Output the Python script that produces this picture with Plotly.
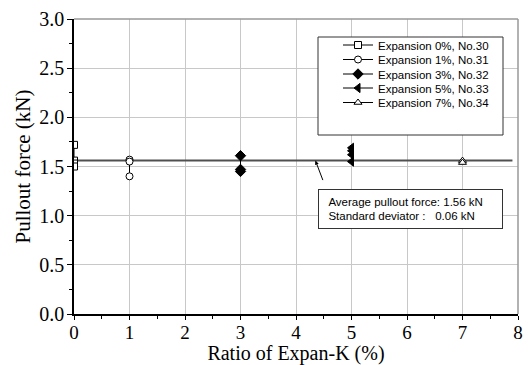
import plotly.graph_objects as go

# ---- data ----
series_names = ["Expansion 0%, No.30", "Expansion 1%, No.31", "Expansion 3%, No.32",
                "Expansion 5%, No.33", "Expansion 7%, No.34"]
x_0 = [0, 0, 0, 0]
y_0 = [1.72, 1.56, 1.53, 1.50]
x_1 = [1, 1, 1]
y_1 = [1.57, 1.55, 1.40]
x_3 = [3, 3, 3]
y_3 = [1.61, 1.47, 1.45]
x_5 = [5, 5, 5, 5]
y_5 = [1.69, 1.66, 1.62, 1.55]
x_7 = [7, 7]
y_7 = [1.56, 1.54]
avg_force = 1.56
avg_x = [0.07, 7.9]
x_ticks = [0, 1, 2, 3, 4, 5, 6, 7, 8]
y_ticks = [0.0, 0.5, 1.0, 1.5, 2.0, 2.5, 3.0]
y_ticklabels = ["0.0", "0.5", "1.0", "1.5", "2.0", "2.5", "3.0"]
annot_text = ("&nbsp;&nbsp;Average pullout force: 1.56 kN<br>"
              "&nbsp;&nbsp;Standard deviator :&nbsp;&nbsp;&nbsp;0.06 kN")
arrow_x, arrow_y = 4.35, 1.56

xs = [x_0, x_1, x_3, x_5, x_7]
ys = [y_0, y_1, y_3, y_5, y_7]
symbols = ["square", "circle", "diamond", "triangle-left", "triangle-up"]
fills = ["white", "white", "black", "black", "white"]
sizes = [7, 7, 8, 8, 7]

# layout helpers (pixels of the 531x365 canvas)
L, R, T, B = 74, 13, 19, 51
W, H = 531, 365
PW, PH = W - L - R, H - T - B
def px_x(p):
    return (p - L) / PW
def px_y(p):
    return (H - B - p) / PH

legend_rows_px = [45, 59.5, 74, 88, 102.5]
legend_ids = ["legend", "legend2", "legend3", "legend4", "legend5"]

serif = "Liberation Serif, Times New Roman, serif"
sans = "Liberation Sans, Arial, sans-serif"

fig = go.Figure()

fig.add_trace(go.Scatter(x=avg_x, y=[avg_force, avg_force], mode="lines",
                         line=dict(color="#505050", width=2), showlegend=False,
                         hoverinfo="skip"))

for name, x, y, sym, fc, sz, lid in zip(series_names, xs, ys, symbols, fills, sizes, legend_ids):
    fig.add_trace(go.Scatter(
        x=x, y=y, name=name, mode="lines+markers", legend=lid,
        line=dict(color="black", width=1),
        marker=dict(symbol=sym, size=sz, color=fc, line=dict(color="black", width=1)),
    ))

legend_layout = {}
for lid, row in zip(legend_ids, legend_rows_px):
    legend_layout[lid] = dict(
        x=px_x(338), y=px_y(row), xanchor="left", yanchor="middle",
        bgcolor="rgba(0,0,0,0)", borderwidth=0,
        font=dict(family=sans, size=11.5, color="black"),
        itemwidth=30,
    )

fig.update_layout(
    width=W, height=H,
    margin=dict(l=L, r=R, t=T, b=B, autoexpand=False),
    plot_bgcolor="white", paper_bgcolor="white",
    showlegend=True,
    **legend_layout,
    xaxis=dict(
        range=[0, 8], tickvals=x_ticks, showgrid=True, gridcolor="#c8c8c8", gridwidth=1,
        showline=True, linecolor="black", linewidth=1.5, zeroline=False, automargin=True,
        ticks="outside", ticklen=4, tickcolor="black", ticklabelstandoff=-4,
        minor=dict(dtick=0.5, ticks="outside", ticklen=3, tickcolor="black", showgrid=False),
        tickfont=dict(family=serif, size=19, color="black"),
        title=dict(text="Ratio of Expan-K (%)", font=dict(family=serif, size=20, color="black"),
                   standoff=0),
    ),
    yaxis=dict(
        range=[0, 3], tickvals=y_ticks, ticktext=y_ticklabels, showgrid=True,
        gridcolor="#c8c8c8", gridwidth=1, automargin=True,
        showline=True, linecolor="black", linewidth=1.5, zeroline=False,
        ticks="outside", ticklen=5, tickcolor="black", ticklabelstandoff=-1,
        minor=dict(dtick=0.25, ticks="outside", ticklen=3, tickcolor="black", showgrid=False),
        tickfont=dict(family=serif, size=20, color="black"),
        title=dict(text="Pullout force (kN)", font=dict(family=serif, size=21, color="black"),
                   standoff=3),
    ),
)

# top and right frame (gray)
fig.add_shape(type="line", xref="paper", yref="paper", x0=0, x1=1, y0=1, y1=1,
              line=dict(color="#999999", width=1.5))
fig.add_shape(type="line", xref="paper", yref="paper", x0=1, x1=1, y0=0, y1=1,
              line=dict(color="#999999", width=1.5))
# legend frame
fig.add_shape(type="rect", xref="paper", yref="paper", layer="above",
              x0=px_x(318), x1=px_x(503), y0=px_y(135), y1=px_y(37),
              fillcolor="white", line=dict(color="#333333", width=1))

# arrow
fig.add_annotation(x=arrow_x, y=arrow_y, xref="x", yref="y", text="", showarrow=True,
                   arrowhead=2, arrowsize=0.8, arrowwidth=1, arrowcolor="black",
                   ax=8, ay=21)
# annotation box
fig.add_annotation(x=px_x(318), y=px_y(229), xref="paper", yref="paper",
                   xanchor="left", yanchor="bottom",
                   text=annot_text, showarrow=False, align="left",
                   font=dict(family=sans, size=11.5, color="black"),
                   bgcolor="white", bordercolor="#333333", borderwidth=1, borderpad=3,
                   width=177, height=32)

fig.write_html("out.html")
